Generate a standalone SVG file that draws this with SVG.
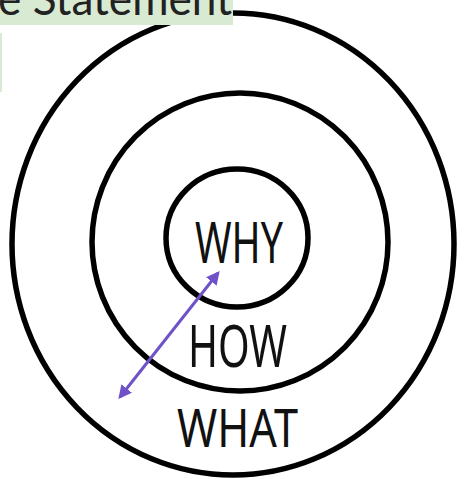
<svg xmlns="http://www.w3.org/2000/svg" width="465" height="479" viewBox="0 0 465 479">
<style>
.ring{fill:none;stroke:#000;stroke-width:5.5}
.lbl{font-family:"Noto Sans",sans-serif;fill:#111}
.hdr{font-family:"Lato","Noto Sans",sans-serif;font-size:46px;fill:#222}
</style>
<defs>
<marker id="ah" viewBox="0 0 10 10" refX="8" refY="5" markerWidth="4.5" markerHeight="4.5" orient="auto-start-reverse">
<path d="M0,0 L10,5 L0,10 z" fill="#6f52c8"/>
</marker>
</defs>
<rect width="465" height="479" fill="#fff"/>
<g id="what">
<ellipse class="ring" cx="233" cy="244" rx="221" ry="231"/>
<text class="lbl" x="177" y="447" font-size="52" textLength="121" lengthAdjust="spacingAndGlyphs">WHAT</text>
</g>
<g id="how">
<ellipse class="ring" cx="240" cy="242" rx="148" ry="149"/>
<text class="lbl" x="188" y="367" font-size="58" textLength="99" lengthAdjust="spacingAndGlyphs">HOW</text>
</g>
<g id="why">
<ellipse class="ring" cx="237" cy="238" rx="71" ry="69"/>
<text class="lbl" x="195" y="263" font-size="56" textLength="88" lengthAdjust="spacingAndGlyphs">WHY</text>
</g>
<g id="header">
<rect x="0" y="0" width="233" height="25" fill="#d9ead3"/>
<rect x="0" y="33" width="2" height="59" fill="#d9ead3"/>
<text class="hdr" x="-2" y="15" textLength="234" lengthAdjust="spacingAndGlyphs">e Statement</text>
</g>
<g id="connectors">
<line x1="120" y1="397" x2="218" y2="273" stroke="#6f52c8" stroke-width="3" marker-start="url(#ah)" marker-end="url(#ah)"/>
</g>
</svg>
